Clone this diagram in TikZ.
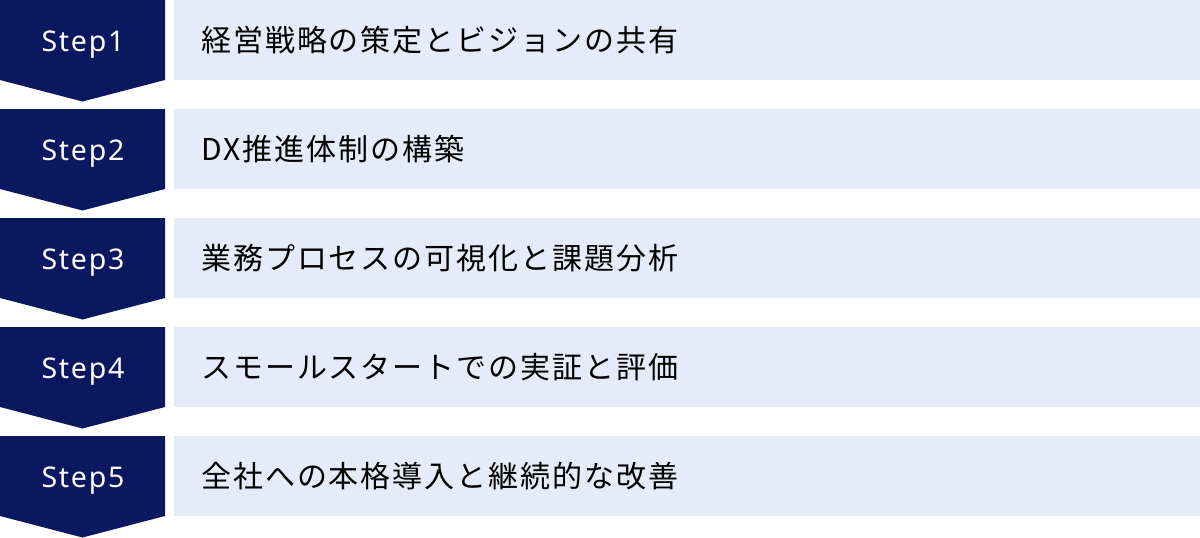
\documentclass[tikz,border=0pt]{standalone}
\usepackage{fontspec}
\setmainfont{Noto Sans}
\newfontfamily\stepfont[LetterSpace=6]{Noto Sans}
\newfontfamily\jpfont[LetterSpace=6.5]{Noto Sans CJK JP}
\definecolor{navy}{RGB}{10,24,96}
\definecolor{paleblue}{RGB}{229,236,249}
\tikzset{
  chev/.style={fill=navy, draw=none},
  bar/.style={fill=paleblue, draw=none},
  steplbl/.style={text=white, font=\stepfont\fontsize{28.5}{32}\selectfont, inner sep=0pt, anchor=base},
  desc/.style={text=black, font=\jpfont\fontsize{30}{34}\selectfont, inner sep=0pt, anchor=base west}
}
\begin{document}
\begin{tikzpicture}[x=1pt,y=-1pt]
\useasboundingbox (0,0) rectangle (1200,538);
\foreach \i/\t in {1/経営戦略の策定とビジョンの共有,2/DX推進体制の構築,3/業務プロセスの可視化と課題分析,4/スモールスタートでの実証と評価,5/全社への本格導入と継続的な改善}{
  \pgfmathsetmacro{\r}{(\i-1)*109}
  \fill[chev] (0,\r) -- (165,\r) -- (165,\r+80) -- (82.5,\r+101.5) -- (0,\r+80) -- cycle;
  \fill[bar] (174,\r) rectangle (1200,\r+80);
  \node[steplbl] (s\i) at (83,\r+51.7) {Step\i};
  \node[desc] (d\i) at (201,\r+51) {\t};
}
\end{tikzpicture}
\end{document}
